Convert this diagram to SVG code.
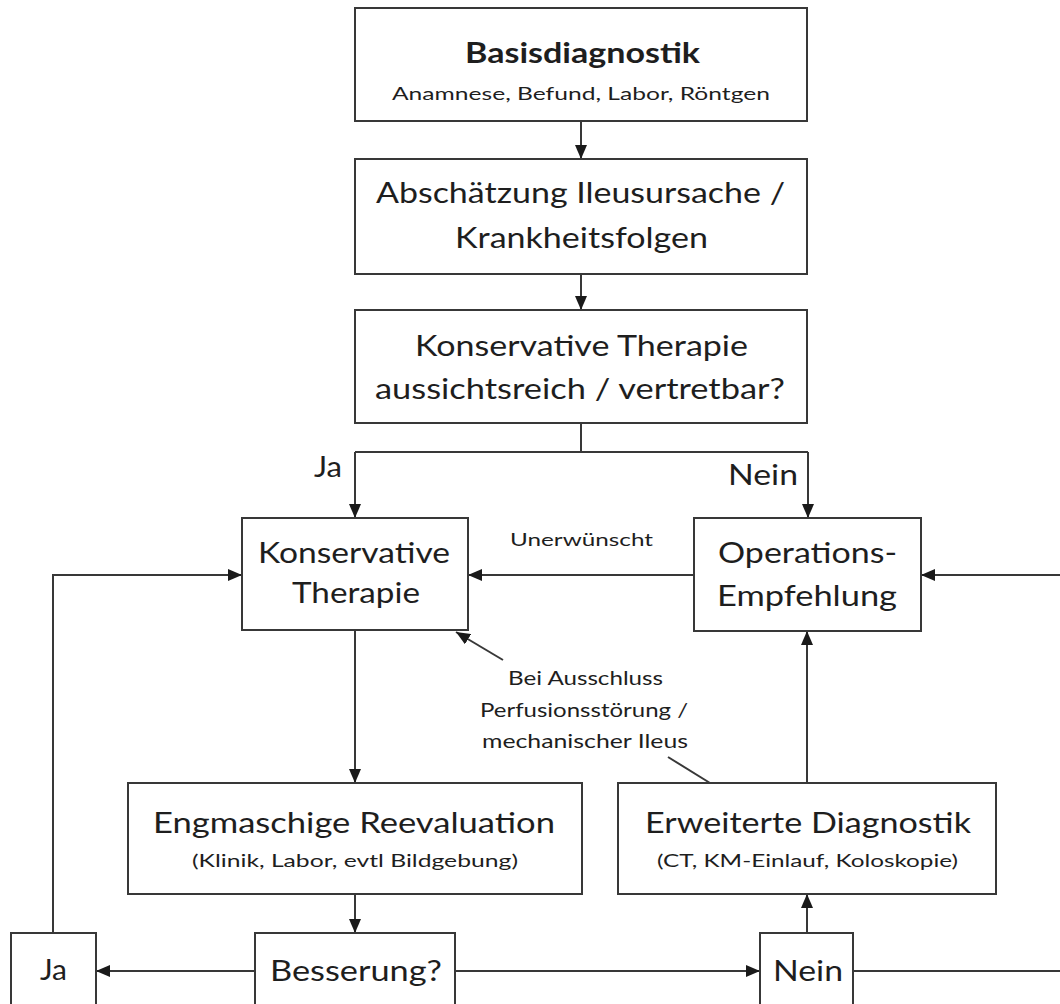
<svg xmlns="http://www.w3.org/2000/svg" width="1060" height="1004" viewBox="0 0 1060 1004">
<style>
.box{fill:#ffffff;stroke:#383838;stroke-width:2}
.ln{fill:none;stroke:#383838;stroke-width:2}
.t{font-family:Lato,"Open Sans","Liberation Sans",sans-serif;fill:#1e1e1e;text-anchor:middle}
.m{font-size:28px}
.s{font-size:18px}
.l{font-size:19px}
.b{font-weight:bold}
</style>
<defs>
<marker id="ah" viewBox="0 0 14 12" refX="14" refY="6" markerWidth="14" markerHeight="12" markerUnits="userSpaceOnUse" orient="auto">
<path d="M0,0 L14,6 L0,12 z" fill="#1a1a1a"/>
</marker>
</defs>
<rect width="1060" height="1004" fill="#ffffff"/>

<g id="connectors">
<line class="ln" x1="581" y1="121" x2="581" y2="159" marker-end="url(#ah)"/>
<line class="ln" x1="581" y1="274" x2="581" y2="310" marker-end="url(#ah)"/>
<polyline class="ln" points="581,423 581,452"/>
<polyline class="ln" points="355,452 808,452"/>
<line class="ln" x1="355" y1="452" x2="355" y2="518" marker-end="url(#ah)"/>
<line class="ln" x1="808" y1="452" x2="808" y2="518" marker-end="url(#ah)"/>
<line class="ln" x1="694" y1="575" x2="468" y2="575" marker-end="url(#ah)"/>
<line class="ln" x1="1060" y1="575" x2="921" y2="575" marker-end="url(#ah)"/>
<polyline class="ln" points="53,933 53,575 242,575" marker-end="url(#ah)"/>
<line class="ln" x1="355" y1="630" x2="355" y2="783" marker-end="url(#ah)"/>
<line class="ln" x1="807" y1="783" x2="807" y2="631" marker-end="url(#ah)"/>
<line class="ln" x1="503" y1="660" x2="456" y2="632" marker-end="url(#ah)"/>
<line class="ln" x1="710" y1="783" x2="668" y2="757"/>
<line class="ln" x1="355" y1="894" x2="355" y2="933" marker-end="url(#ah)"/>
<line class="ln" x1="255" y1="971" x2="96" y2="971" marker-end="url(#ah)"/>
<line class="ln" x1="455" y1="971" x2="760" y2="971" marker-end="url(#ah)"/>
<line class="ln" x1="807" y1="933" x2="807" y2="894" marker-end="url(#ah)"/>
<line class="ln" x1="853" y1="971" x2="1060" y2="971"/>
</g>

<g id="labels">
<text class="t m" x="328" y="477" textLength="28" lengthAdjust="spacingAndGlyphs">Ja</text>
<text class="t m" x="763" y="485" textLength="70" lengthAdjust="spacingAndGlyphs">Nein</text>
<text class="t s" x="581.5" y="546" textLength="143" lengthAdjust="spacingAndGlyphs">Unerwünscht</text>
<text class="t l" x="585.5" y="685" textLength="155" lengthAdjust="spacingAndGlyphs">Bei Ausschluss</text>
<text class="t l" x="584" y="717" textLength="208" lengthAdjust="spacingAndGlyphs">Perfusionsstörung /</text>
<text class="t l" x="585" y="748" textLength="206" lengthAdjust="spacingAndGlyphs">mechanischer Ileus</text>
</g>

<g id="basisdiagnostik">
<rect class="box" x="355" y="8" width="452" height="113"/>
<text class="t m b" x="582.5" y="63" textLength="235" lengthAdjust="spacingAndGlyphs">Basisdiagnostik</text>
<text class="t s" x="581" y="100" textLength="378" lengthAdjust="spacingAndGlyphs">Anamnese, Befund, Labor, Röntgen</text>
</g>

<g id="abschaetzung">
<rect class="box" x="355" y="159" width="452" height="115"/>
<text class="t m" x="580.5" y="203" textLength="409" lengthAdjust="spacingAndGlyphs">Abschätzung Ileusursache /</text>
<text class="t m" x="581.5" y="248" textLength="253" lengthAdjust="spacingAndGlyphs">Krankheitsfolgen</text>
</g>

<g id="entscheidung">
<rect class="box" x="355" y="310" width="452" height="113"/>
<text class="t m" x="581.5" y="356" textLength="333" lengthAdjust="spacingAndGlyphs">Konservative Therapie</text>
<text class="t m" x="580" y="399" textLength="410" lengthAdjust="spacingAndGlyphs">aussichtsreich / vertretbar?</text>
</g>

<g id="konservative-therapie">
<rect class="box" x="242" y="518" width="226" height="112"/>
<text class="t m" x="354" y="563" textLength="192" lengthAdjust="spacingAndGlyphs">Konservative</text>
<text class="t m" x="356" y="603" textLength="128" lengthAdjust="spacingAndGlyphs">Therapie</text>
</g>

<g id="operations-empfehlung">
<rect class="box" x="694" y="518" width="227" height="113"/>
<text class="t m" x="807.5" y="563" textLength="179" lengthAdjust="spacingAndGlyphs">Operations-</text>
<text class="t m" x="807" y="606" textLength="180" lengthAdjust="spacingAndGlyphs">Empfehlung</text>
</g>

<g id="reevaluation">
<rect class="box" x="128" y="783" width="454" height="111"/>
<text class="t m" x="354" y="833" textLength="402" lengthAdjust="spacingAndGlyphs">Engmaschige Reevaluation</text>
<text class="t s" x="355" y="867" textLength="326" lengthAdjust="spacingAndGlyphs">(Klinik, Labor, evtl Bildgebung)</text>
</g>

<g id="erweiterte-diagnostik">
<rect class="box" x="618" y="783" width="378" height="111"/>
<text class="t m" x="808" y="833" textLength="326" lengthAdjust="spacingAndGlyphs">Erweiterte Diagnostik</text>
<text class="t s" x="807.5" y="867" textLength="301" lengthAdjust="spacingAndGlyphs">(CT, KM-Einlauf, Koloskopie)</text>
</g>

<g id="ja">
<rect class="box" x="11" y="933" width="85" height="80"/>
<text class="t m" x="53.5" y="980" textLength="27" lengthAdjust="spacingAndGlyphs">Ja</text>
</g>

<g id="besserung">
<rect class="box" x="255" y="933" width="200" height="80"/>
<text class="t m" x="356" y="981" textLength="172" lengthAdjust="spacingAndGlyphs">Besserung?</text>
</g>

<g id="nein">
<rect class="box" x="760" y="933" width="93" height="80"/>
<text class="t m" x="808" y="981" textLength="70" lengthAdjust="spacingAndGlyphs">Nein</text>
</g>
</svg>
